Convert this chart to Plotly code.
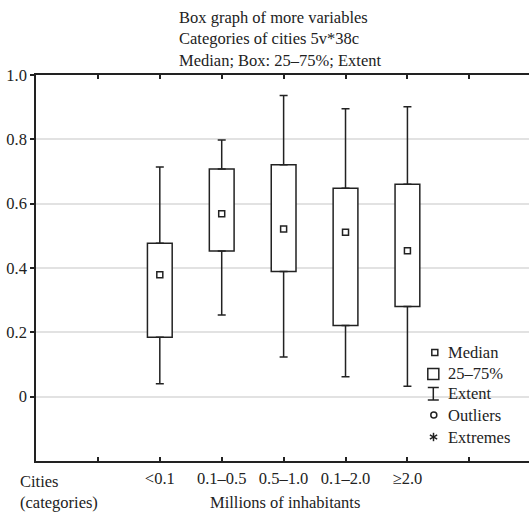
import math
import plotly.graph_objects as go

# ---- data ----
categories = ["<0.1", "0.1–0.5", "0.5–1.0", "0.1–2.0", "≥2.0"]
medians = [0.379, 0.569, 0.521, 0.511, 0.454]
q1 = [0.185, 0.453, 0.389, 0.221, 0.280]
q3 = [0.477, 0.708, 0.721, 0.648, 0.660]
lower = [0.040, 0.254, 0.123, 0.062, 0.032]
upper = [0.714, 0.798, 0.936, 0.895, 0.901]
y_tick_vals = [0, 0.2, 0.4, 0.6, 0.8, 1.0]
y_tick_text = ["0", "0.2", "0.4", "0.6", "0.8", "1.0"]

FONT = "Liberation Serif"
FS = 16.5
INK = "#222222"

WIN_W, WIN_H = 529, 513
SX = 537 / 529                      # horizontal compensation observed in the capture
W, H = round(WIN_W * SX), WIN_H
PX0, PX1, PY0, PY1 = 35, 528, 75, 461          # plot area in window pixels
L, R = round(PX0 * SX), W - round(PX1 * SX)
T, B = PY0, H - PY1


def px_x(p):
    return (p - PX0) / (PX1 - PX0)


def px_y(p):
    return (PY1 - p) / (PY1 - PY0)


# category positions on a numeric axis (slot 2..6 of 0..8)
xpos = [i + 2 for i in range(len(categories))]

fig = go.Figure()

# boxes (25-75%)
fig.add_trace(go.Bar(
    x=xpos, base=q1, y=[b - a for a, b in zip(q1, q3)], width=0.4,
    marker=dict(color="white", line=dict(color=INK, width=1.5)),
    showlegend=False, hoverinfo="skip",
))

# upper whiskers
fig.add_trace(go.Scatter(
    x=xpos, y=q3, mode="markers", marker=dict(size=1, opacity=0),
    error_y=dict(type="data", symmetric=False,
                 array=[u - b for u, b in zip(upper, q3)],
                 arrayminus=[0] * len(q3), color=INK, thickness=1.5, width=4),
    showlegend=False, hoverinfo="skip",
))
# lower whiskers
fig.add_trace(go.Scatter(
    x=xpos, y=q1, mode="markers", marker=dict(size=1, opacity=0),
    error_y=dict(type="data", symmetric=False,
                 array=[0] * len(q1),
                 arrayminus=[a - lo for a, lo in zip(q1, lower)], color=INK, thickness=1.5, width=4),
    showlegend=False, hoverinfo="skip",
))
# medians
fig.add_trace(go.Scatter(
    x=xpos, y=medians, mode="markers",
    marker=dict(symbol="square-open", size=6, color=INK, line=dict(width=1.5, color=INK)),
    showlegend=False, hoverinfo="skip",
))

shapes = []
annotations = []


def rect(cx, cy, s):
    return dict(type="rect", xref="paper", yref="paper",
                x0=px_x(cx - s / 2), x1=px_x(cx + s / 2),
                y0=px_y(cy + s / 2), y1=px_y(cy - s / 2),
                line=dict(color=INK, width=1.5), fillcolor="white", layer="above")


def seg(xa, ya, xb, yb):
    return dict(type="line", xref="paper", yref="paper",
                x0=px_x(xa), y0=px_y(ya), x1=px_x(xb), y1=px_y(yb),
                line=dict(color=INK, width=1.5), layer="above")


# ---- legend glyphs (drawn manually) ----
shapes.append(rect(433, 352.5, 6))
shapes.append(rect(431.5, 374, 11))
shapes.append(seg(431.5, 387.5, 431.5, 400))
shapes.append(seg(426, 387.5, 437, 387.5))
shapes.append(seg(426, 400, 437, 400))
shapes.append(dict(type="circle", xref="paper", yref="paper",
                   x0=px_x(429), x1=px_x(435), y0=px_y(418), y1=px_y(412),
                   line=dict(color=INK, width=1.5), layer="above"))
for ang in (90, 30, -30):
    dx = 4.2 * math.cos(math.radians(ang))
    dy = 4.2 * math.sin(math.radians(ang))
    shapes.append(seg(431.7 - dx, 437 + dy, 431.7 + dx, 437 - dy))

legend_labels = ["Median", "25–75%", "Extent", "Outliers", "Extremes"]
legend_y = [352, 373, 393, 415, 437]
for lab, yy in zip(legend_labels, legend_y):
    annotations.append(dict(text=lab, xref="paper", yref="paper",
                            x=px_x(444), y=px_y(yy), xanchor="left", yanchor="middle",
                            showarrow=False, font=dict(family=FONT, size=FS, color=INK)))

# title
annotations.append(dict(
    text="Box graph of more variables<br>Categories of cities 5v*38c<br>Median; Box: 25–75%; Extent",
    xref="paper", yref="paper", x=px_x(176), y=px_y(38.5), xanchor="left", yanchor="middle",
    align="left", showarrow=False, font=dict(family=FONT, size=FS, color=INK)))

# cities label
annotations.append(dict(
    text="Cities<br>(categories)", xref="paper", yref="paper",
    x=px_x(17), y=px_y(492), xanchor="left", yanchor="middle", align="left",
    showarrow=False, font=dict(family=FONT, size=FS, color=INK)))

# x title
annotations.append(dict(
    text="Millions of inhabitants", xref="paper", yref="paper",
    x=px_x(283), y=px_y(502), xanchor="center", yanchor="middle",
    showarrow=False, font=dict(family=FONT, size=FS, color=INK)))

fig.update_layout(
    width=W, height=H,
    margin=dict(l=L, r=R, t=T, b=B, pad=0),
    paper_bgcolor="white", plot_bgcolor="white",
    font=dict(family=FONT, size=FS, color=INK),
    showlegend=False,
    xaxis=dict(range=[0, 7.98], tickmode="array", tickvals=list(range(1, 8)),
               ticktext=[""] + categories + [""],
               ticks="inside", ticklen=4, tickwidth=1.5, tickcolor=INK,
               showline=True, linecolor=INK, linewidth=1.5, mirror="allticks",
               showgrid=False, zeroline=False, fixedrange=True, ticklabelstandoff=1),
    yaxis=dict(range=[-0.2, 1.0], tickmode="array", tickvals=y_tick_vals, ticktext=y_tick_text,
               ticks="outside", ticklen=4, tickwidth=1.5, tickcolor=INK,
               showline=True, linecolor=INK, linewidth=1.5, mirror="allticks",
               showgrid=True, gridcolor="#e2e2e2", gridwidth=1.5, zeroline=False, fixedrange=True),
    shapes=shapes, annotations=annotations,
)

fig.write_html(
    "out.html", config={"displayModeBar": False},
    post_script=("document.body.style.margin='0';"
                 "document.body.style.overflow='hidden';"
                 "document.documentElement.style.overflow='hidden';"))
